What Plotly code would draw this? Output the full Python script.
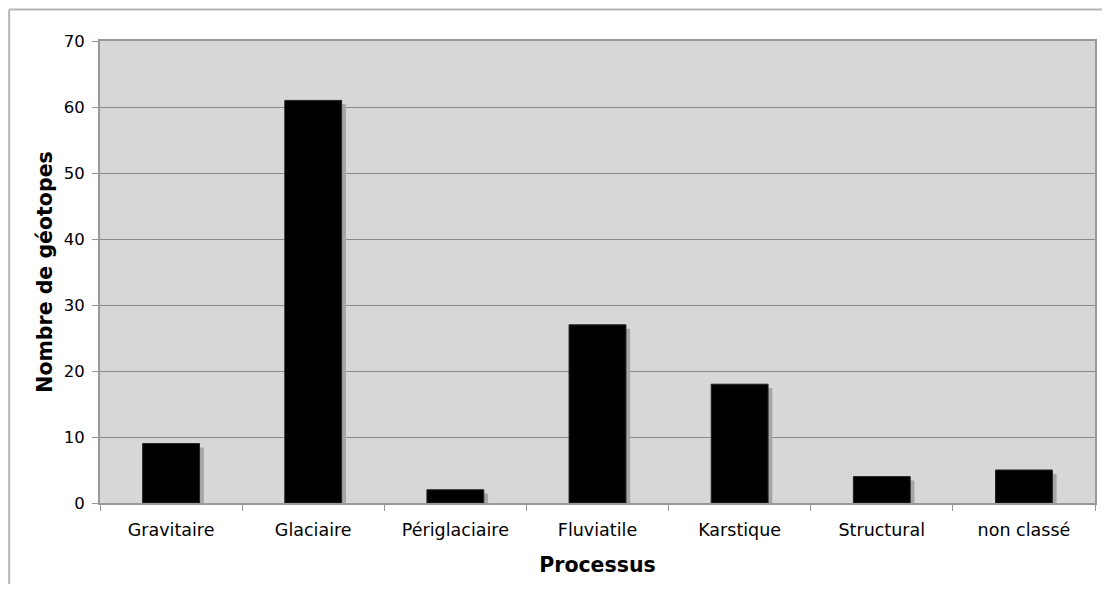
import plotly.graph_objects as go

categories = ["Gravitaire", "Glaciaire", "Périglaciaire", "Fluviatile", "Karstique", "Structural", "non classé"]
values = [9, 61, 2, 27, 18, 4, 5]
y_ticks = [0, 10, 20, 30, 40, 50, 60, 70]

FONT = "DejaVu Sans"
BAR_W = 0.4
SHADOW_DX = 0.03   # category units
SHADOW_DY = 0.6    # data units

# page body has an 8px margin: figure is drawn at (8, 8)
W, H = 1096, 576
L, T, R, B = 92, 33, 7, 81
PW = W - L - R
PH = H - T - B

fig = go.Figure()
fig.add_trace(go.Bar(
    x=categories, y=[max(v - SHADOW_DY, 0) for v in values],
    width=BAR_W, offset=-BAR_W / 2 + SHADOW_DX,
    marker=dict(color="#a6a6a6", line=dict(width=0)),
    hoverinfo="skip", showlegend=False,
))
fig.add_trace(go.Bar(
    x=categories, y=values,
    width=BAR_W, offset=-BAR_W / 2,
    marker=dict(color="#000000", line=dict(color="#222222", width=1)),
    showlegend=False,
))

fig.update_layout(
    width=W, height=H,
    margin=dict(l=L, r=R, t=T, b=B),
    paper_bgcolor="white", plot_bgcolor="#d7d7d7",
    barmode="overlay",
    font=dict(family=FONT, size=13, color="black"),
)
fig.update_xaxes(
    type="category", tickson="boundaries", ticks="outside", ticklen=6,
    tickcolor="#999999", showline=True, linecolor="#999999", linewidth=2, mirror=True,
    showgrid=False, tickfont=dict(size=17.5), ticklabelstandoff=10,
    title=dict(text="<b>Processus</b>", font=dict(size=20.5), standoff=19),
)
fig.update_yaxes(
    range=[0, 70], tickvals=y_ticks, ticks="outside", ticklen=6, tickcolor="#999999",
    showline=True, linecolor="#999999", linewidth=2, mirror=True,
    showgrid=True, gridcolor="#8a8a8a", gridwidth=1, zeroline=False,
    tickfont=dict(size=16.5), ticklabelstandoff=4,
    title=dict(text="<b>Nombre de géotopes</b>", font=dict(size=20.5), standoff=6),
)

# Outer frame (left and top)
fx = (1 - L) / PW
fy_top = 1 + (T - 1.5) / PH
fy_bot = -B / PH
fx_right = 1 + R / PW
fig.add_shape(type="line", xref="paper", yref="paper", x0=fx, x1=fx, y0=fy_bot, y1=fy_top,
              line=dict(color="#b5b5b5", width=2))
fig.add_shape(type="line", xref="paper", yref="paper", x0=fx, x1=fx_right, y0=fy_top, y1=fy_top,
              line=dict(color="#b5b5b5", width=2))

fig.write_html("out.html")
